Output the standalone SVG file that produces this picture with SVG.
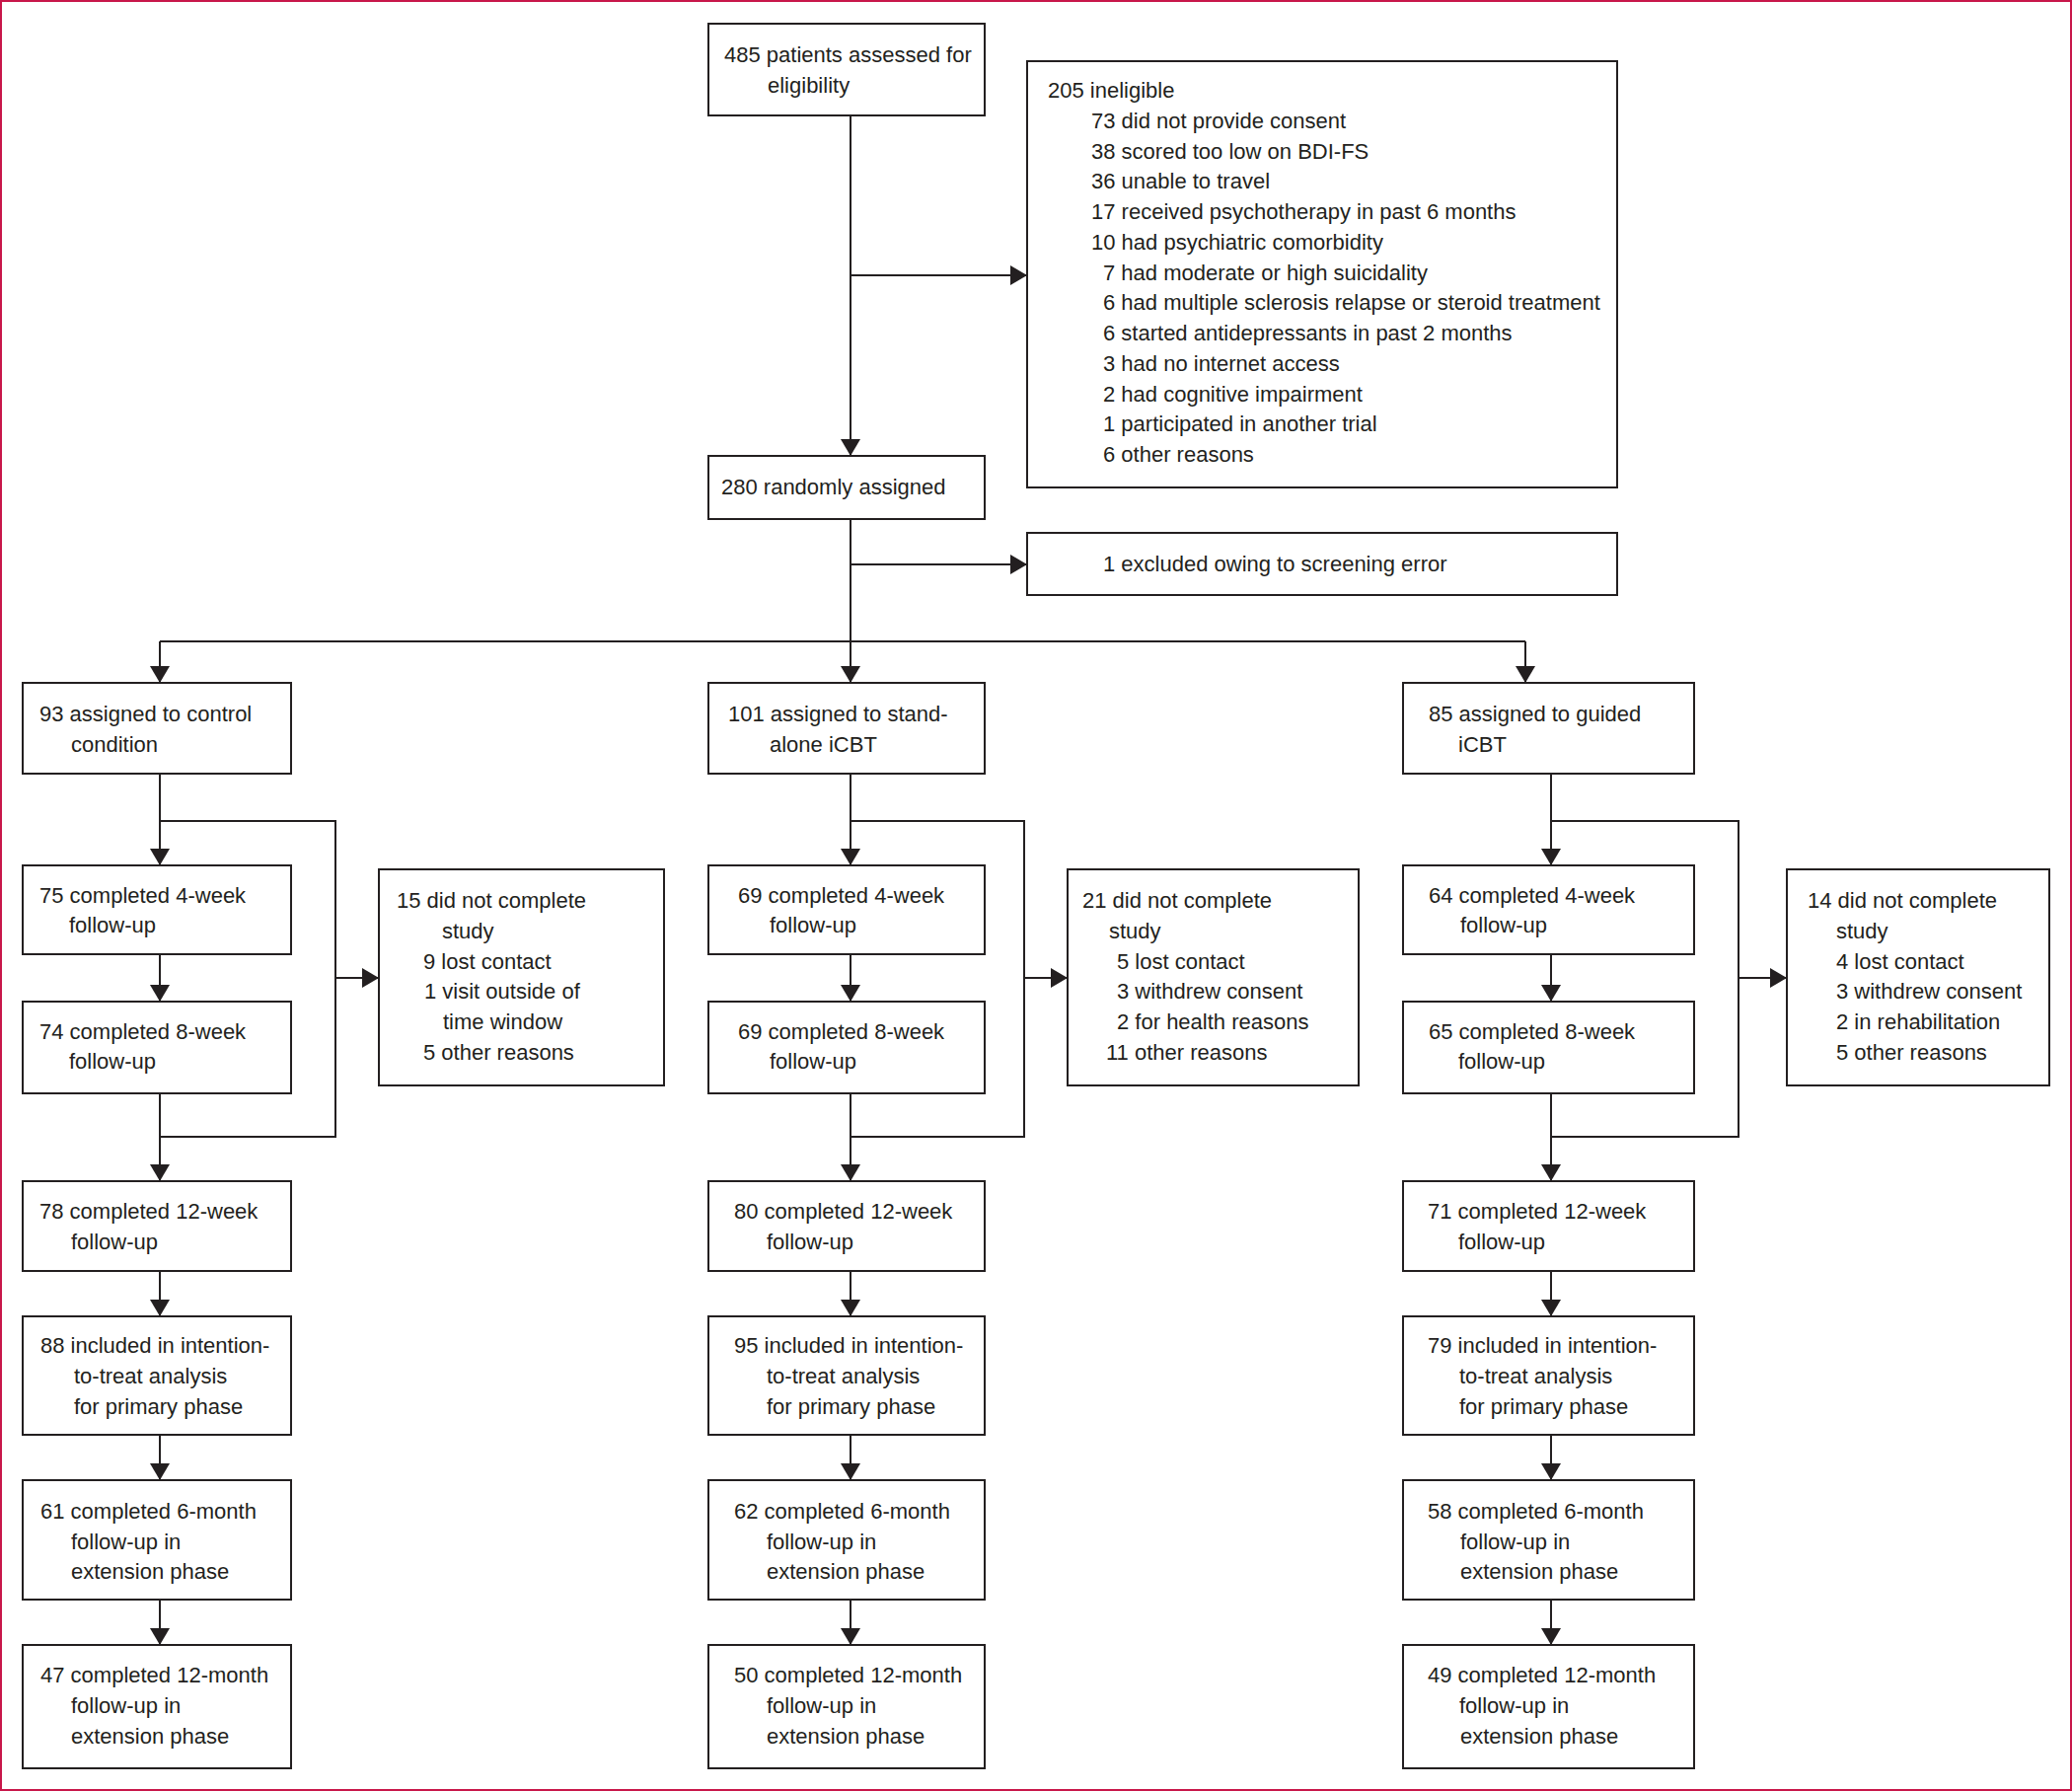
<svg xmlns="http://www.w3.org/2000/svg" width="2100" height="1815" viewBox="0 0 2100 1815">
<defs>
<marker id="ah" markerUnits="userSpaceOnUse" viewBox="0 0 17 20" refX="17" refY="10" markerWidth="17" markerHeight="20" orient="auto">
<path d="M0,0 L17,10 L0,20 z" fill="#231f20"/>
</marker>
<style>
.box{fill:#fff;stroke:#231f20;stroke-width:2}
.t{font-family:"Liberation Sans",Arial,sans-serif;font-size:22px;fill:#231f20}
.c{fill:none;stroke:#231f20;stroke-width:2}
.a{fill:none;stroke:#231f20;stroke-width:2;marker-end:url(#ah)}
</style>
</defs>
<rect x="0" y="0" width="2100" height="1815" fill="#fff"/>
<rect x="1" y="1" width="2098" height="1813" fill="none" stroke="#c8174a" stroke-width="2"/>

<g id="connectors">
<path class="a" d="M862,117 V462"/>
<path class="a" d="M862,279 H1041"/>
<path class="a" d="M862,526 V692"/>
<path class="a" d="M862,572 H1041"/>
<path class="c" d="M162,650 H1546"/>
<path class="a" d="M162,650 V692"/>
<path class="a" d="M1546,650 V692"/>

<path class="a" d="M162,784 V877"/>
<path class="c" d="M162,832 H340 V1152 H162"/>
<path class="a" d="M340,991 H384"/>
<path class="a" d="M162,967 V1015"/>
<path class="a" d="M162,1108 V1197"/>
<path class="a" d="M162,1288 V1334"/>
<path class="a" d="M162,1454 V1500"/>
<path class="a" d="M162,1621 V1667"/>

<path class="a" d="M862,784 V877"/>
<path class="c" d="M862,832 H1038 V1152 H862"/>
<path class="a" d="M1038,991 H1082"/>
<path class="a" d="M862,967 V1015"/>
<path class="a" d="M862,1108 V1197"/>
<path class="a" d="M862,1288 V1334"/>
<path class="a" d="M862,1454 V1500"/>
<path class="a" d="M862,1621 V1667"/>

<path class="a" d="M1572,784 V877"/>
<path class="c" d="M1572,832 H1762 V1152 H1572"/>
<path class="a" d="M1762,991 H1811"/>
<path class="a" d="M1572,967 V1015"/>
<path class="a" d="M1572,1108 V1197"/>
<path class="a" d="M1572,1288 V1334"/>
<path class="a" d="M1572,1454 V1500"/>
<path class="a" d="M1572,1621 V1667"/>
</g>

<g id="assessed">
<rect class="box" x="718" y="24" width="280" height="93"/>
<text class="t" x="734" y="63">485 patients assessed for</text>
<text class="t" x="778" y="94">eligibility</text>
</g>

<g id="ineligible">
<rect class="box" x="1041" y="62" width="598" height="432"/>
<text class="t" x="1062" y="99">205 ineligible</text>
<text class="t" x="1106" y="130">73 did not provide consent</text>
<text class="t" x="1106" y="161">38 scored too low on BDI-FS</text>
<text class="t" x="1106" y="191">36 unable to travel</text>
<text class="t" x="1106" y="222">17 received psychotherapy in past 6 months</text>
<text class="t" x="1106" y="253">10 had psychiatric comorbidity</text>
<text class="t" x="1118" y="284">7 had moderate or high suicidality</text>
<text class="t" x="1118" y="314">6 had multiple sclerosis relapse or steroid treatment</text>
<text class="t" x="1118" y="345">6 started antidepressants in past 2 months</text>
<text class="t" x="1118" y="376">3 had no internet access</text>
<text class="t" x="1118" y="407">2 had cognitive impairment</text>
<text class="t" x="1118" y="437">1 participated in another trial</text>
<text class="t" x="1118" y="468">6 other reasons</text>
</g>

<g id="randomised">
<rect class="box" x="718" y="462" width="280" height="64"/>
<text class="t" x="731" y="501">280 randomly assigned</text>
</g>

<g id="excluded">
<rect class="box" x="1041" y="540" width="598" height="63"/>
<text class="t" x="1118" y="579">1 excluded owing to screening error</text>
</g>

<!-- Control column -->
<g id="ctrl-assigned">
<rect class="box" x="23" y="692" width="272" height="92"/>
<text class="t" x="40" y="731">93 assigned to control</text>
<text class="t" x="72" y="762">condition</text>
</g>
<g id="ctrl-4w">
<rect class="box" x="23" y="877" width="272" height="90"/>
<text class="t" x="40" y="915">75 completed 4-week</text>
<text class="t" x="70" y="945">follow-up</text>
</g>
<g id="ctrl-8w">
<rect class="box" x="23" y="1015" width="272" height="93"/>
<text class="t" x="40" y="1053">74 completed 8-week</text>
<text class="t" x="70" y="1083">follow-up</text>
</g>
<g id="ctrl-dropout">
<rect class="box" x="384" y="881" width="289" height="219"/>
<text class="t" x="402" y="920">15 did not complete</text>
<text class="t" x="448" y="951">study</text>
<text class="t" x="429" y="982">9 lost contact</text>
<text class="t" x="430" y="1012">1 visit outside of</text>
<text class="t" x="449" y="1043">time window</text>
<text class="t" x="429" y="1074">5 other reasons</text>
</g>
<g id="ctrl-12w">
<rect class="box" x="23" y="1197" width="272" height="91"/>
<text class="t" x="40" y="1235">78 completed 12-week</text>
<text class="t" x="72" y="1266">follow-up</text>
</g>
<g id="ctrl-itt">
<rect class="box" x="23" y="1334" width="272" height="120"/>
<text class="t" x="41" y="1371">88 included in intention-</text>
<text class="t" x="75" y="1402">to-treat analysis</text>
<text class="t" x="75" y="1433">for primary phase</text>
</g>
<g id="ctrl-6m">
<rect class="box" x="23" y="1500" width="272" height="121"/>
<text class="t" x="41" y="1539">61 completed 6-month</text>
<text class="t" x="72" y="1570">follow-up in</text>
<text class="t" x="72" y="1600">extension phase</text>
</g>
<g id="ctrl-12m">
<rect class="box" x="23" y="1667" width="272" height="125"/>
<text class="t" x="41" y="1705">47 completed 12-month</text>
<text class="t" x="72" y="1736">follow-up in</text>
<text class="t" x="72" y="1767">extension phase</text>
</g>

<!-- Stand-alone column -->
<g id="sa-assigned">
<rect class="box" x="718" y="692" width="280" height="92"/>
<text class="t" x="738" y="731">101 assigned to stand-</text>
<text class="t" x="780" y="762">alone iCBT</text>
</g>
<g id="sa-4w">
<rect class="box" x="718" y="877" width="280" height="90"/>
<text class="t" x="748" y="915">69 completed 4-week</text>
<text class="t" x="780" y="945">follow-up</text>
</g>
<g id="sa-8w">
<rect class="box" x="718" y="1015" width="280" height="93"/>
<text class="t" x="748" y="1053">69 completed 8-week</text>
<text class="t" x="780" y="1083">follow-up</text>
</g>
<g id="sa-dropout">
<rect class="box" x="1082" y="881" width="295" height="219"/>
<text class="t" x="1097" y="920">21 did not complete</text>
<text class="t" x="1124" y="951">study</text>
<text class="t" x="1132" y="982">5 lost contact</text>
<text class="t" x="1132" y="1012">3 withdrew consent</text>
<text class="t" x="1132" y="1043">2 for health reasons</text>
<text class="t" x="1121" y="1074">11 other reasons</text>
</g>
<g id="sa-12w">
<rect class="box" x="718" y="1197" width="280" height="91"/>
<text class="t" x="744" y="1235">80 completed 12-week</text>
<text class="t" x="777" y="1266">follow-up</text>
</g>
<g id="sa-itt">
<rect class="box" x="718" y="1334" width="280" height="120"/>
<text class="t" x="744" y="1371">95 included in intention-</text>
<text class="t" x="777" y="1402">to-treat analysis</text>
<text class="t" x="777" y="1433">for primary phase</text>
</g>
<g id="sa-6m">
<rect class="box" x="718" y="1500" width="280" height="121"/>
<text class="t" x="744" y="1539">62 completed 6-month</text>
<text class="t" x="777" y="1570">follow-up in</text>
<text class="t" x="777" y="1600">extension phase</text>
</g>
<g id="sa-12m">
<rect class="box" x="718" y="1667" width="280" height="125"/>
<text class="t" x="744" y="1705">50 completed 12-month</text>
<text class="t" x="777" y="1736">follow-up in</text>
<text class="t" x="777" y="1767">extension phase</text>
</g>

<!-- Guided column -->
<g id="g-assigned">
<rect class="box" x="1422" y="692" width="295" height="92"/>
<text class="t" x="1448" y="731">85 assigned to guided</text>
<text class="t" x="1478" y="762">iCBT</text>
</g>
<g id="g-4w">
<rect class="box" x="1422" y="877" width="295" height="90"/>
<text class="t" x="1448" y="915">64 completed 4-week</text>
<text class="t" x="1480" y="945">follow-up</text>
</g>
<g id="g-8w">
<rect class="box" x="1422" y="1015" width="295" height="93"/>
<text class="t" x="1448" y="1053">65 completed 8-week</text>
<text class="t" x="1478" y="1083">follow-up</text>
</g>
<g id="g-dropout">
<rect class="box" x="1811" y="881" width="266" height="219"/>
<text class="t" x="1832" y="920">14 did not complete</text>
<text class="t" x="1861" y="951">study</text>
<text class="t" x="1861" y="982">4 lost contact</text>
<text class="t" x="1861" y="1012">3 withdrew consent</text>
<text class="t" x="1861" y="1043">2 in rehabilitation</text>
<text class="t" x="1861" y="1074">5 other reasons</text>
</g>
<g id="g-12w">
<rect class="box" x="1422" y="1197" width="295" height="91"/>
<text class="t" x="1447" y="1235">71 completed 12-week</text>
<text class="t" x="1478" y="1266">follow-up</text>
</g>
<g id="g-itt">
<rect class="box" x="1422" y="1334" width="295" height="120"/>
<text class="t" x="1447" y="1371">79 included in intention-</text>
<text class="t" x="1479" y="1402">to-treat analysis</text>
<text class="t" x="1479" y="1433">for primary phase</text>
</g>
<g id="g-6m">
<rect class="box" x="1422" y="1500" width="295" height="121"/>
<text class="t" x="1447" y="1539">58 completed 6-month</text>
<text class="t" x="1480" y="1570">follow-up in</text>
<text class="t" x="1480" y="1600">extension phase</text>
</g>
<g id="g-12m">
<rect class="box" x="1422" y="1667" width="295" height="125"/>
<text class="t" x="1447" y="1705">49 completed 12-month</text>
<text class="t" x="1479" y="1736">follow-up in</text>
<text class="t" x="1480" y="1767">extension phase</text>
</g>
</svg>
